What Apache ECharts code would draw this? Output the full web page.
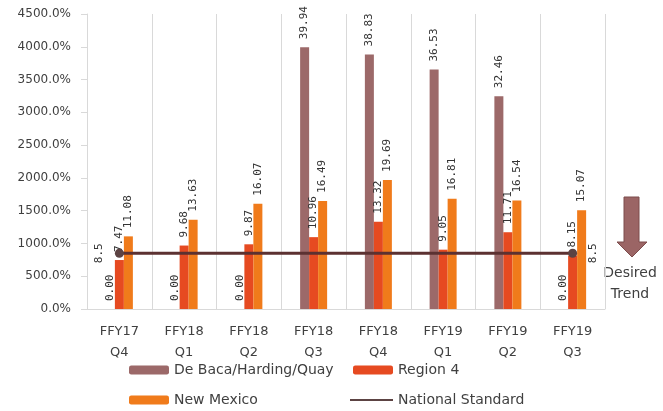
<!DOCTYPE html>
<html>
<head>
<meta charset="utf-8">
<script src="https://cdn.jsdelivr.net/npm/echarts@6/dist/echarts.min.js"></script>
<style>
  html, body { margin: 0; padding: 0; background: #fff; }
  #chart { width: 663px; height: 411px; }
</style>
</head>
<body>
<div id="chart"></div>
<script>
// quarters on the x axis
const quarters = ['FFY17\nQ4', 'FFY18\nQ1', 'FFY18\nQ2', 'FFY18\nQ3', 'FFY18\nQ4', 'FFY19\nQ1', 'FFY19\nQ2', 'FFY19\nQ3'];

// values as shown in the labels (axis shows them x100 as percent)
const deBaca = [0.00, 0.00, 0.00, 39.94, 38.83, 36.53, 32.46, 0.00];
const region4 = [7.47, 9.68, 9.87, 10.96, 13.32, 9.05, 11.71, 8.15];
const newMexico = [11.08, 13.63, 16.07, 16.49, 19.69, 16.81, 16.54, 15.07];
const nationalStandard = [8.5, 8.5, 8.5, 8.5, 8.5, 8.5, 8.5, 8.5];

const yMin = 0;
const yMax = 45;
const yStep = 5;

const labelFont = {
  fontFamily: 'DejaVu Sans Mono',
  fontSize: 11,
  color: '#333333'
};

function barSeries(name, values, color) {
  return {
    name: name,
    type: 'bar',
    data: values,
    barWidth: 9,
    barGap: '0%',
    itemStyle: { color: color },
    label: {
      show: true,
      position: 'top',
      rotate: 90,
      align: 'left',
      verticalAlign: 'middle',
      distance: 8,
      formatter: p => p.value.toFixed(2),
      ...labelFont
    }
  };
}

// line only gets a marker + label at the two ends
const last = nationalStandard.length - 1;
const lineData = nationalStandard.map((v, i) => {
  const end = i === 0 || i === last;
  return {
    value: v,
    symbol: end ? 'circle' : 'none',
    label: end ? {
      show: true,
      position: i === 0 ? 'left' : 'right',
      rotate: 90,
      align: 'center',
      verticalAlign: 'middle',
      distance: 16,
      formatter: p => String(p.value),
      ...labelFont
    } : { show: false }
  };
});

function oneLegend(name, left, top, opts) {
  return Object.assign({
    data: [name],
    left: left,
    top: top,
    padding: 0,
    itemWidth: 40,
    itemHeight: 9,
    itemGap: 5,
    selectedMode: false,
    textStyle: { fontFamily: 'DejaVu Sans', fontSize: 14, color: '#404040' }
  }, opts || {});
}

const chart = echarts.init(document.getElementById('chart'), null, { renderer: 'canvas' });

chart.setOption({
  animation: false,
  backgroundColor: '#ffffff',
  grid: { left: 87, right: 58, top: 14, bottom: 102 },
  xAxis: {
    type: 'category',
    data: quarters,
    axisLine: { lineStyle: { color: '#d9d9d9' } },
    axisTick: { show: false },
    splitLine: { show: true, lineStyle: { color: '#d9d9d9' } },
    axisLabel: {
      interval: 0,
      margin: 12,
      fontFamily: 'DejaVu Sans',
      fontSize: 13,
      lineHeight: 21,
      color: '#404040'
    }
  },
  yAxis: {
    type: 'value',
    min: yMin,
    max: yMax,
    interval: yStep,
    axisLine: { show: true, lineStyle: { color: '#d9d9d9' } },
    axisTick: { show: true, length: 6, lineStyle: { color: '#d9d9d9' } },
    splitLine: { show: false },
    axisLabel: {
      margin: 16,
      formatter: v => (v * 100).toFixed(1) + '%',
      fontFamily: 'DejaVu Sans',
      fontSize: 12,
      color: '#404040'
    }
  },
  legend: [
    oneLegend('De Baca/Harding/Quay', 129, 363),
    oneLegend('Region 4', 353, 363),
    oneLegend('New Mexico', 129, 393),
    oneLegend('National Standard', 350, 393, {
      data: [{ name: 'National Standard', icon: 'rect' }],
      itemWidth: 43,
      itemHeight: 2
    })
  ],
  series: [
    barSeries('De Baca/Harding/Quay', deBaca, '#9c6969'),
    barSeries('Region 4', region4, '#e64a21'),
    barSeries('New Mexico', newMexico, '#f07b1b'),
    {
      name: 'National Standard',
      type: 'line',
      data: lineData,
      symbolSize: 9,
      z: 5,
      lineStyle: { color: '#5c3131', width: 3 },
      itemStyle: { color: '#5c4343' }
    }
  ],
  graphic: [
    {
      type: 'polygon',
      shape: {
        points: [[624, 197], [639, 197], [639, 242], [647, 242], [632, 257], [617, 242], [624, 242]]
      },
      style: { fill: '#9b6565', stroke: '#7d4c4c', lineWidth: 1 }
    },
    {
      type: 'text',
      x: 630,
      y: 263,
      style: {
        text: 'Desired\nTrend',
        fill: '#404040',
        font: '14px "DejaVu Sans"',
        lineHeight: 21,
        align: 'center',
        verticalAlign: 'top'
      }
    }
  ]
});
</script>
</body>
</html>
